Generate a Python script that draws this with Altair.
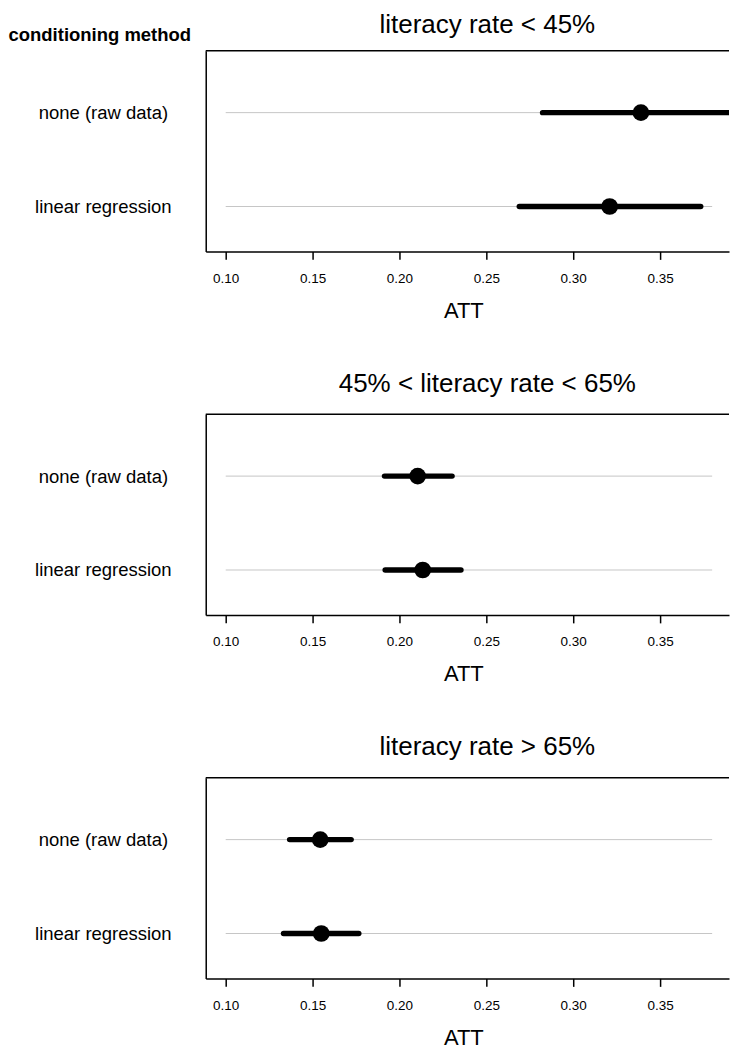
import altair as alt
import pandas as pd

# ---- data ----
panels = ["literacy rate < 45%", "45% < literacy rate < 65%", "literacy rate > 65%"]
methods = ["none (raw data)", "linear regression"]
att = [[0.339, 0.321], [0.2105, 0.2134], [0.1544, 0.1550]]
lower = [[0.2824, 0.269], [0.1914, 0.1918], [0.1368, 0.1333]]
upper = [[0.396, 0.3734], [0.2303, 0.2354], [0.1722, 0.1766]]
guide_lo = 0.10
guide_hi = 0.38
x_ticks = [0.10, 0.15, 0.20, 0.25, 0.30, 0.35]
x_domain = [0.0885, 0.3897]

FONT = "Liberation Sans"
W = 524
H = 201


def panel(i):
    df = pd.DataFrame({
        "method": methods,
        "att": att[i],
        "lo": lower[i],
        "hi": upper[i],
        "glo": [guide_lo] * len(methods),
        "ghi": [guide_hi] * len(methods),
    })
    xs = alt.Scale(domain=x_domain, nice=False, zero=False)
    ys = alt.Scale(type="point", domain=methods, padding=0.569, align=0.58)
    xaxis = alt.Axis(
        values=x_ticks, format=".2f", grid=False,
        domainColor="black", domainWidth=1.5,
        tickColor="black", tickWidth=1.5, tickSize=8,
        labelFont=FONT, labelFontSize=13.5, labelColor="black", labelPadding=12,
        title="ATT", titleFont=FONT, titleFontSize=22, titleFontWeight="normal",
        titleColor="black", titleBaseline="alphabetic", titleAlign="center",
        titleX=258, titleY=66,
    )
    yargs = dict(
        grid=False, ticks=False, tickSize=0,
        domainColor="black", domainWidth=1.5,
        labelFont=FONT, labelFontSize=18.5, labelColor="black",
        labelAlign="center", labelBaseline="middle", labelPadding=103,
    )
    if i == 0:
        yaxis = alt.Axis(
            title="conditioning method", titleFont=FONT, titleFontSize=18.5,
            titleFontWeight="bold", titleColor="black", titleAngle=0,
            titleAlign="left", titleBaseline="alphabetic",
            titleX=-198, titleY=-10, **yargs)
        title_offset = -12.5
    else:
        yaxis = alt.Axis(title=None, **yargs)
        title_offset = 16.5

    base = alt.Chart(df)
    guide = base.mark_rule(color="#c6c6c6", strokeWidth=1).encode(
        x=alt.X("glo:Q", scale=xs, axis=xaxis),
        x2="ghi:Q",
        y=alt.Y("method:N", scale=ys, axis=yaxis, sort=methods),
    )
    ci = base.mark_rule(color="black", strokeWidth=5.5, strokeCap="round", clip=True).encode(
        x="lo:Q", x2="hi:Q", y=alt.Y("method:N", sort=methods)
    )
    pt = base.mark_circle(size=280, color="black", opacity=1).encode(
        x="att:Q", y=alt.Y("method:N", sort=methods)
    )
    border = alt.Chart(pd.DataFrame({"k": [0]})).mark_rule(
        color="black", strokeWidth=1.5
    ).encode(x=alt.value(0), x2=alt.value(W), y=alt.value(0))

    return alt.layer(guide, ci, pt, border).properties(
        width=W, height=H,
        title=alt.TitleParams(
            text=panels[i], font=FONT, fontSize=26, fontWeight="normal",
            color="black", anchor="middle", dx=20, offset=title_offset, frame="group",
        ),
    )


chart = alt.vconcat(*[panel(i) for i in range(3)], spacing=49).properties(
    padding={"left": 0, "top": 3, "right": 0, "bottom": 0}
).configure_view(stroke=None)

chart.save("out.html", embed_options={"renderer": "svg", "actions": False})
